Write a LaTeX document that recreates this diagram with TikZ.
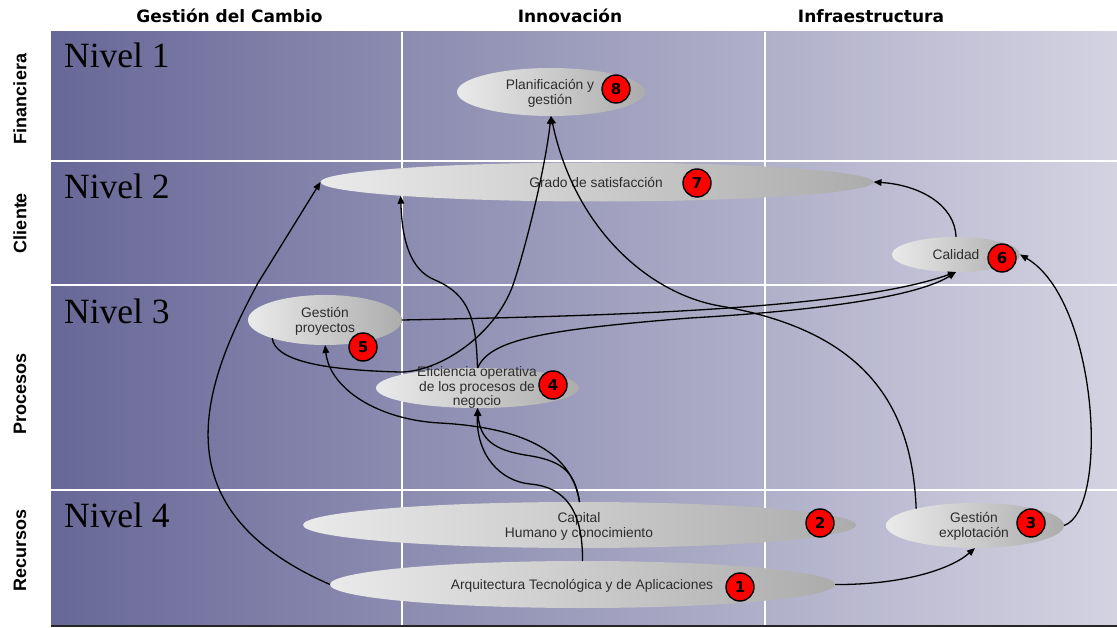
\documentclass[tikz,border=0pt]{standalone}
\usepackage{fontspec}
\setmainfont{Liberation Serif}
\newfontfamily\hdrfont{DejaVu Sans}
\newfontfamily\lblfont{Liberation Sans}
\usepackage{tikz}
\usetikzlibrary{shapes.geometric,arrows.meta}
\definecolor{bgL}{RGB}{104,104,152}
\definecolor{bgR}{RGB}{212,211,226}
\definecolor{ellL}{RGB}{234,234,234}
\definecolor{ellR}{RGB}{172,172,172}
\definecolor{txtgray}{RGB}{45,45,45}
\tikzset{
  elipse/.style={ellipse, shade, left color=ellL, right color=ellR, inner sep=0pt, outer sep=0pt},
  etxt/.style={align=center, inner sep=0pt, text=txtgray, font=\lblfont\fontsize{13.8}{14.8}\selectfont},
  badge/.style={circle, draw=black, line width=1.4pt, fill=red, minimum size=28pt, inner sep=0pt, font=\hdrfont\bfseries\fontsize{15}{15}\selectfont},
  colhdr/.style={font=\hdrfont\bfseries\fontsize{17}{17}\selectfont, anchor=base, inner sep=0pt},
  rowhdr/.style={font=\lblfont\bfseries\fontsize{18}{18}\selectfont, rotate=90, inner sep=0pt},
  nivel/.style={font=\fontsize{35.5}{35.5}\selectfont, anchor=base west, inner sep=0pt},
  flecha/.style={line width=1.3pt, -{Triangle[length=8pt,width=6.5pt]}},
  rejilla/.style={white, line width=1.5pt}
}
\begin{document}
\begin{tikzpicture}[x=1pt,y=-1pt]
\useasboundingbox (0,0) rectangle (1117,628);
% fondo y rejilla
\shade[left color=bgL, right color=bgR] (51,32) rectangle (1117,625);
\foreach \y in {161,285,490} \draw[rejilla] (51,\y) -- (1117,\y);
\foreach \x in {402,765} \draw[rejilla] (\x,32) -- (\x,625);
\draw[line width=1.5pt, black!85] (51,626) -- (1117,626);
% cabeceras
\node[colhdr] (h-cambio) at (229.5,23) {Gestión del Cambio};
\node[colhdr] (h-innov) at (570,23) {Innovación};
\node[colhdr] (h-infra) at (871,23) {Infraestructura};
\node[rowhdr] (r-fin) at (20,99) {Financiera};
\node[rowhdr] (r-cli) at (20,223) {Cliente};
\node[rowhdr] (r-proc) at (20,394) {Procesos};
\node[rowhdr] (r-rec) at (20,550) {Recursos};
\node[nivel] (niv1) at (64,68) {Nivel 1};
\node[nivel] (niv2) at (64,199) {Nivel 2};
\node[nivel] (niv3) at (64,323.5) {Nivel 3};
\node[nivel] (niv4) at (64,527) {Nivel 4};
% elipses
\node[elipse, minimum width=188pt, minimum height=48pt] (planif) at (551,92) {};
\node[elipse, minimum width=553pt, minimum height=39pt] (satisf) at (597,182) {};
\node[elipse, minimum width=128pt, minimum height=35pt] (calidad) at (956,254.5) {};
\node[elipse, minimum width=154pt, minimum height=50pt] (proyectos) at (325,320) {};
\node[elipse, minimum width=203pt, minimum height=40pt] (eficiencia) at (477.5,388) {};
\node[elipse, minimum width=553pt, minimum height=46pt] (capital) at (579.5,525) {};
\node[elipse, minimum width=178pt, minimum height=45pt] (explot) at (975,525.5) {};
\node[elipse, minimum width=505pt, minimum height=47pt] (arq) at (582.5,584.5) {};
\node[etxt] (planif-t) at (550,93) {Planificación y\\gestión};
\node[etxt] (satisf-t) at (596,182) {Grado de satisfacción};
\node[etxt] (calidad-t) at (956,255) {Calidad};
\node[etxt] (proyectos-t) at (325,321) {Gestión\\proyectos};
\node[etxt] (eficiencia-t) at (477,387.5) {Eficiencia operativa\\de los procesos de\\negocio};
\node[etxt] (capital-t) at (579,526.5) {Capital\\Humano y conocimiento};
\node[etxt] (explot-t) at (974,526) {Gestión\\explotación};
\node[etxt] (arq-t) at (582,586) {Arquitectura Tecnológica y de Aplicaciones};
% relaciones
\draw[flecha] (arq.west) .. controls (160,510) and (200,390) .. (258,283) -- (satisf.west);
\draw[flecha] (arq.north) .. controls (583,510) and (565,487) .. (530,484) .. controls (500,481) and (476,455) .. (eficiencia.south);
\draw[flecha] (capital.north) .. controls (575,470) and (560,460) .. (525,455) .. controls (495,450) and (480,440) .. (eficiencia.south);
\draw[flecha] (capital.north) .. controls (572,455) and (530,428) .. (440,423) .. controls (380,420) and (330,390) .. (proyectos.south);
\draw[flecha] (eficiencia.north) .. controls (490,340) and (540,330) .. (690,318) .. controls (830,310) and (920,295) .. (calidad.south);
\draw[flecha] (proyectos.east) .. controls (600,316) and (850,310) .. (calidad.south);
\draw[flecha] (eficiencia.north) .. controls (476,320) and (470,295) .. (435,280) .. controls (410,270) and (402,240) .. (satisf.184);
\draw[flecha] (proyectos.199) .. controls (275,360) and (320,370) .. (400,372) .. controls (440,372) and (495,335) .. (513,285) .. controls (525,250) and (545,170) .. (planif.south);
\draw[flecha] (explot.164) .. controls (912,400) and (860,330) .. (720,306) .. controls (650,294) and (575,230) .. (planif.south);
\draw[flecha] (explot.east) .. controls (1110,510) and (1098,300) .. (calidad.east);
\draw[flecha] (calidad.north) .. controls (955,205) and (920,185) .. (satisf.east);
\draw[flecha] (arq.east) .. controls (900,585) and (950,570) .. (explot.south);
% numeros
\node[badge] (n8) at (616,89) {8};
\node[badge] (n7) at (697,183) {7};
\node[badge] (n6) at (1002,258) {6};
\node[badge] (n5) at (363,347) {5};
\node[badge] (n4) at (553,385) {4};
\node[badge] (n3) at (1031,523) {3};
\node[badge] (n2) at (820,523) {2};
\node[badge] (n1) at (740,587) {1};
\end{tikzpicture}
\end{document}
